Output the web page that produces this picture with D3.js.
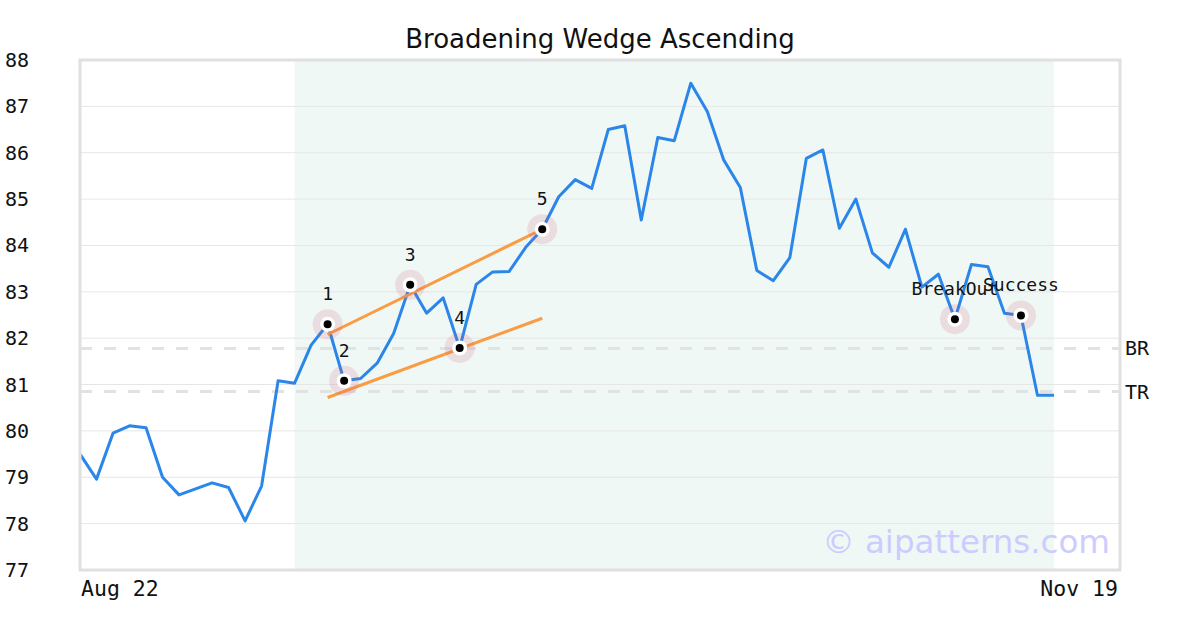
<!DOCTYPE html>
<html>
<head>
<meta charset="utf-8">
<script src="https://cdn.jsdelivr.net/npm/d3@7"></script>
<style>
  html, body { margin: 0; padding: 0; background: #fff; }
  svg { display: block; }
</style>
</head>
<body>
<svg id="chart" width="1200" height="630"></svg>
<script>
const title = "Broadening Wedge Ascending";
const prices = [79.50,78.96,79.95,80.11,80.07,79.00,78.62,78.75,78.88,78.78,
                78.06,78.81,81.08,81.03,81.85,82.30,81.08,81.13,81.46,82.10,
                83.15,82.54,82.87,81.79,83.16,83.43,83.44,83.96,84.35,85.05,
                85.42,85.23,86.50,86.58,84.55,86.33,86.26,87.50,86.89,85.84,
                85.25,83.46,83.24,83.74,85.88,86.06,84.37,85.00,83.84,83.53,
                84.35,83.10,83.38,82.41,83.59,83.54,82.54,82.49,80.77,80.77];
const yTicks = [77,78,79,80,81,82,83,84,85,86,87,88];
const xTickIdx = [0, 63];
const xTickLabels = ["Aug 22", "Nov 19"];
const pointIdx = [15, 16, 20, 23, 28, 53, 57];
const pointLabels = ["1", "2", "3", "4", "5", "BreakOut", "Success"];
const topLineIdx = [15, 28];
const topLineVal = [82.08, 84.35];
const botLineIdx = [15, 28];
const botLineVal = [80.72, 82.43];
const levelNames = ["BR", "TR"];
const levelValues = [81.78, 80.85];
const shadeRange = [13, 59];
const watermark = "© aipatterns.com";

const svg = d3.select("#chart");
const L = 80, R = 1120, T = 60, B = 570;
const x = d3.scaleLinear().domain([0, 63]).range([L, R]);
const y = d3.scaleLinear().domain([77, 88]).range([B, T]);
const mono = "'DejaVu Sans Mono', monospace";
const sans = "'DejaVu Sans', sans-serif";

// title
svg.append("text").attr("x", 600).attr("y", 48).attr("text-anchor", "middle")
  .attr("font-family", sans).attr("font-size", 26).attr("fill", "#111").text(title);

// shaded pattern region
svg.append("rect").attr("x", x(shadeRange[0])).attr("y", T)
  .attr("width", x(shadeRange[1]) - x(shadeRange[0])).attr("height", B - T)
  .attr("fill", "#f0f8f5");

// grid
svg.append("g").selectAll("line").data(yTicks.slice(1, -1)).join("line")
  .attr("x1", L).attr("x2", R).attr("y1", d => y(d)).attr("y2", d => y(d))
  .attr("stroke", "#e6e6e6").attr("stroke-width", 1);

// level dashed lines
svg.append("g").selectAll("line").data(levelValues).join("line")
  .attr("x1", L).attr("x2", R).attr("y1", d => y(d)).attr("y2", d => y(d))
  .attr("stroke", "#e2e2e2").attr("stroke-width", 3).attr("stroke-dasharray", "12,12");
svg.append("g").selectAll("text").data(levelValues).join("text")
  .attr("x", R + 5).attr("y", d => y(d)).attr("dy", "0.35em")
  .attr("font-family", mono).attr("font-size", 20).attr("fill", "#111")
  .text((d, i) => levelNames[i]);

// watermark
svg.append("text").attr("x", 1110).attr("y", 553).attr("text-anchor", "end")
  .attr("font-family", sans).attr("font-size", 32.5).attr("fill", "#ccccff").text(watermark);

// price line
const line = d3.line().x((d, i) => x(i)).y(d => y(d));
svg.append("path").datum(prices).attr("d", line).attr("fill", "none")
  .attr("stroke", "#2a86e8").attr("stroke-width", 3).attr("stroke-linejoin", "round");

// wedge lines
const wl = d3.line().x(d => x(d[0])).y(d => y(d[1]));
svg.append("path").datum(topLineIdx.map((d, i) => [d, topLineVal[i]])).attr("d", wl)
  .attr("fill", "none").attr("stroke", "#fa9c43").attr("stroke-width", 3);
svg.append("path").datum(botLineIdx.map((d, i) => [d, botLineVal[i]])).attr("d", wl)
  .attr("fill", "none").attr("stroke", "#fa9c43").attr("stroke-width", 3);

// markers
const mk = svg.append("g").selectAll("g").data(pointIdx).join("g")
  .attr("transform", d => `translate(${x(d)},${y(prices[d])})`);
mk.append("circle").attr("r", 15).attr("fill", "rgba(200,90,120,0.17)");
mk.append("circle").attr("r", 7.5).attr("fill", "#fff");
mk.append("circle").attr("r", 4).attr("fill", "#000");
svg.append("g").selectAll("text").data(pointIdx).join("text")
  .attr("x", d => x(d)).attr("y", d => y(prices[d]) - 24).attr("text-anchor", "middle")
  .attr("font-family", mono).attr("font-size", 18).attr("fill", "#111")
  .text((d, i) => pointLabels[i]);

// y tick labels
svg.append("g").selectAll("text").data(yTicks).join("text")
  .attr("x", 5).attr("y", d => y(d)).attr("dy", "0.35em")
  .attr("font-family", mono).attr("font-size", 20).attr("fill", "#111").text(d => d);

// x tick labels
svg.append("g").selectAll("text").data(xTickIdx).join("text")
  .attr("x", (d, i) => i === 0 ? x(d) + 1 : x(d) - 2).attr("y", 596)
  .attr("text-anchor", (d, i) => i === 0 ? "start" : "end")
  .attr("font-family", mono).attr("font-size", 21.5).attr("fill", "#111")
  .text((d, i) => xTickLabels[i]);

// border
svg.append("rect").attr("x", L).attr("y", T).attr("width", R - L).attr("height", B - T)
  .attr("fill", "none").attr("stroke", "#e0e0e0").attr("stroke-width", 3);
</script>
</body>
</html>
